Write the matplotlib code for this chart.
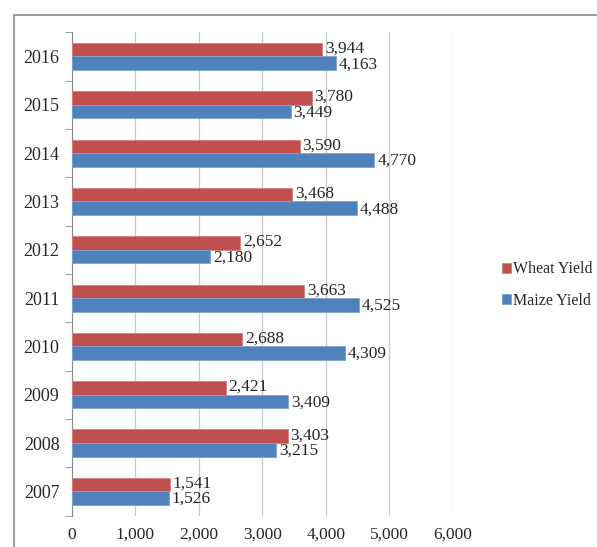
import matplotlib.pyplot as plt
import numpy as np
from matplotlib.patches import Rectangle

years = ["2007", "2008", "2009", "2010", "2011", "2012", "2013", "2014", "2015", "2016"]
wheat = [1541, 3403, 2421, 2688, 3663, 2652, 3468, 3590, 3780, 3944]
maize = [1526, 3215, 3409, 4309, 4525, 2180, 4488, 4770, 3449, 4163]
xticks = [0, 1000, 2000, 3000, 4000, 5000, 6000]

RED = "#C0504D"
BLUE = "#4F81BD"
TXT = "#262626"

plt.rcParams["font.family"] = ["Liberation Serif", "DejaVu Serif"]

W, H = 597, 547
fig = plt.figure(figsize=(W / 100, H / 100), dpi=100)

# outer chart frame (cropped at right/bottom)
fig.patches.append(Rectangle((14 / W, -0.05), 1.2, 1 - 15 / H + 0.05,
                             transform=fig.transFigure, fill=False,
                             edgecolor="#8c8c8c", linewidth=1.2))

ax = fig.add_axes([72 / W, 1 - 515.5 / H, (452.5 - 72) / W, (515.5 - 32.3) / H])

y = np.arange(len(years))
h = 0.28
ax.barh(y + h / 2, wheat, height=h, color=RED, edgecolor="#d77e7c", linewidth=0.6, label="Wheat Yield", zorder=3)
ax.barh(y - h / 2, maize, height=h, color=BLUE, edgecolor="#7fa3d1", linewidth=0.6, label="Maize Yield", zorder=3)

for i in range(len(years)):
    ax.text(wheat[i] + 45, y[i] + h / 2 + 0.02, f"{wheat[i]:,}", va="center", ha="left", fontsize=12.5, color=TXT)
    ax.text(maize[i] + 45, y[i] - h / 2 - 0.02, f"{maize[i]:,}", va="center", ha="left", fontsize=12.5, color=TXT)

ax.set_xlim(0, 6000)
ax.set_ylim(-0.5, len(years) - 0.5)
ax.set_xticks(xticks)
ax.set_xticklabels([f"{v:,}" for v in xticks], fontsize=12.5, color=TXT)
ax.set_yticks(y)
ax.set_yticklabels(years, fontsize=13, color=TXT)
ax.set_yticks(np.arange(-0.5, len(years), 1), minor=True)
ax.tick_params(axis="y", which="major", length=0, pad=9)
ax.tick_params(axis="y", which="minor", length=5, color="#8c8c8c", direction="out")
ax.tick_params(axis="x", length=0, pad=8)
ax.grid(axis="x", color="#c8c8c8", linewidth=0.9, zorder=0)
for s in ["top", "right", "bottom"]:
    ax.spines[s].set_visible(False)
ax.spines["left"].set_color("#8c8c8c")

handles, labels = ax.get_legend_handles_labels()
leg = fig.legend(handles, labels, loc="center left", bbox_to_anchor=(489 / W, 1 - 285 / H),
                 frameon=False, fontsize=11.5, handlelength=0.55, handleheight=0.55,
                 handletextpad=0.15, labelspacing=0.95, borderpad=0.3)
for t in leg.get_texts():
    t.set_color(TXT)

fig.savefig("out.png", dpi=100)
